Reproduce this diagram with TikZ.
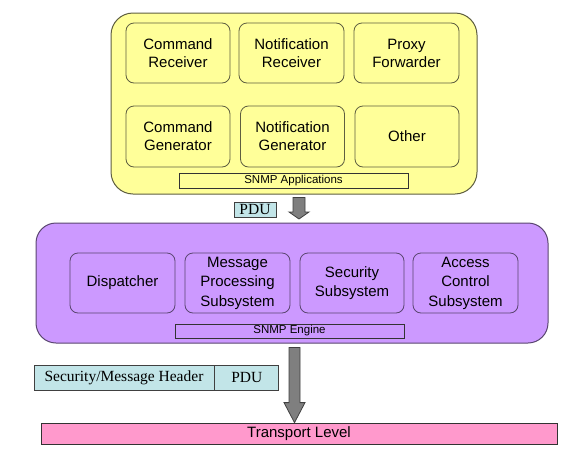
\documentclass[tikz,border=0pt]{standalone}
\usepackage{fontspec}
\setmainfont{Liberation Sans}
\newfontfamily\timesfont{Liberation Serif}
\usetikzlibrary{calc}
\definecolor{appyellow}{HTML}{FFFF99}
\definecolor{appedge}{HTML}{5E5E40}
\definecolor{engpurple}{HTML}{CC99FF}
\definecolor{engedge}{HTML}{5A4670}
\definecolor{pducyan}{HTML}{C2E5E8}
\definecolor{transpink}{HTML}{FF99CC}
\definecolor{arrowgray}{HTML}{7F7F7F}
\definecolor{arrowedge}{HTML}{404040}
\tikzset{
  appouter/.style={draw=appedge, fill=appyellow, line width=1pt, rounded corners=22pt, inner sep=0pt},
  appbox/.style={draw=appedge, fill=appyellow, line width=0.8pt, rounded corners=8pt, inner sep=0pt,
    align=center, font=\fontsize{15}{18}\selectfont, minimum height=60pt},
  engouter/.style={draw=engedge, fill=engpurple, line width=1pt, rounded corners=20pt, inner sep=0pt},
  engbox/.style={draw=engedge, fill=engpurple, line width=0.8pt, rounded corners=8pt, inner sep=0pt,
    align=center, font=\fontsize{15}{19.5}\selectfont, minimum width=105pt, minimum height=60pt},
  bar/.style={draw=black!80, line width=0.8pt, inner sep=0pt, font=\fontsize{11.5}{12}\selectfont, minimum width=229pt},
  pdubox/.style={draw=black!75, fill=pducyan, line width=0.8pt, inner sep=0pt, font=\timesfont\fontsize{15.5}{16}\selectfont},
  transbar/.style={draw=black!80, fill=transpink, line width=0.8pt, inner sep=0pt, font=\fontsize{15}{16}\selectfont},
}
\newcommand\fatarrow[5]{%
  \path let \p1=(#1), \p2=(#2) in [fill=arrowgray, draw=arrowedge, line width=0.8pt]
    (\x1-#3,\y1) -- (\x1+#3,\y1) -- (\x1+#3,\y2+#5) -- (\x1+#4,\y2+#5) -- (\x1,\y2)
    -- (\x1-#4,\y2+#5) -- (\x1-#3,\y2+#5) -- cycle;}
\begin{document}
\begin{tikzpicture}[x=1pt,y=-1pt]
\useasboundingbox (0,0) rectangle (584,469);
% applications
\node[appouter, minimum width=366pt, minimum height=181pt] (apps) at (294,103.5) {};
\node[appbox, minimum width=104pt] (cr) at (178,53) {Command\\Receiver};
\node[appbox, minimum width=105pt] (nr) at (291.5,53) {Notification\\Receiver};
\node[appbox, minimum width=105pt] (pf) at (406.5,53) {Proxy\\Forwarder};
\node[appbox, minimum width=104pt, minimum height=61pt] (cg) at (178,136.5) {Command\\Generator};
\node[appbox, minimum width=104pt, minimum height=61pt] (ng) at (292.5,136.5) {Notification\\Generator};
\node[appbox, minimum width=104pt, minimum height=61pt] (ot) at (407,136.5) {Other};
\node[bar, fill=appyellow, minimum height=15pt] (appbar) at (293.5,180.5) {SNMP Applications};
% PDU top
\node[pdubox, minimum width=42pt, minimum height=15pt] (pdu1) at (255,209.5) {PDU};
\coordinate (a1s) at (299,197.5);
\coordinate (a1e) at (299,219);
% engine
\node[engouter, minimum width=512pt, minimum height=120pt] (eng) at (292,283) {};
\node[engbox] (disp) at (122.5,283) {Dispatcher};
\node[engbox] (mps) at (237.5,283) {Message\\Processing\\Subsystem};
\node[engbox, minimum width=104pt] (sec) at (352,283) {Security\\Subsystem};
\node[engbox] (acs) at (465.5,283) {Access\\Control\\Subsystem};
\node[bar, fill=engpurple, minimum height=14pt] (engbar) at (289.5,331) {SNMP Engine};
% message
\node[pdubox, minimum width=180pt, minimum height=25pt] (hdr) at (124,377.5) {Security/Message Header};
\node[pdubox, minimum width=64pt, minimum height=25pt, anchor=west] (pdu2) at (hdr.east) {PDU};
% transport
\node[transbar, minimum width=516pt, minimum height=21pt] (tr) at (299,433.5) {Transport Level};
\coordinate (a2s) at (294.5,347.5);
% arrows
\fatarrow{a1s}{a1e}{6pt}{10pt}{7pt}
\fatarrow{a2s}{tr.north -| a2s}{5.5pt}{10.5pt}{20pt}
\end{tikzpicture}
\end{document}
